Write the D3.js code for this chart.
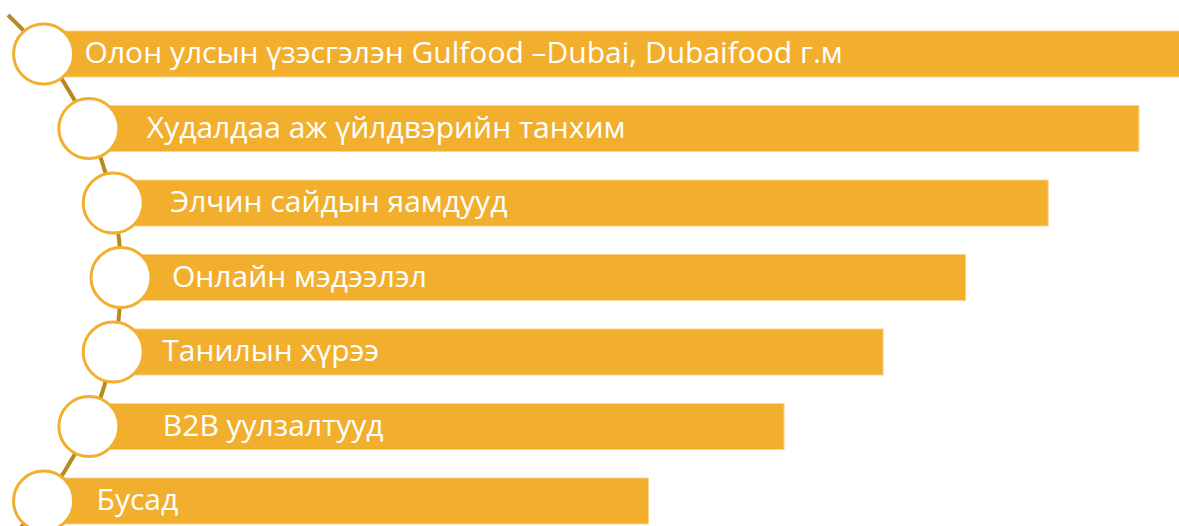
<!DOCTYPE html>
<html>
<head>
<meta charset="utf-8">
<script src="https://cdn.jsdelivr.net/npm/d3@7"></script>
<style>
    body { margin: 0; background: #fff; }
    svg { display: block; }
    .label { font-family: "Open Sans", sans-serif; font-size: 30px; fill: #fff; }
</style>
</head>
<body>
<div id="chart"></div>
<script>
var labels = [
    "Олон улсын үзэсгэлэн Gulfood –Dubai, Dubaifood г.м",
    "Худалдаа аж үйлдвэрийн танхим",
    "Элчин сайдын яамдууд",
    "Онлайн мэдээлэл",
    "Танилын хүрээ",
    "B2B уулзалтууд",
    "Бусад"
];
var values = [101, 96.6, 88.9, 81.9, 74.9, 66.5, 55.0];

// text indent from circle centre (layout only)
var labelPad = [41, 58, 57, 51, 49, 74, 53];

var width = 1179,
    height = 526,
    bar_h = 46,
    r = 30,
    gold = "#f2af2e",
    line_color = "#b8891e";

var svg = d3.select("#chart").append("svg")
    .attr("width", width)
    .attr("height", height);

var data = labels.map(function(d, i) {
    return {label: d, value: values[i], pad: labelPad[i]};
});

var xScale = d3.scaleLinear()
    .domain([0, 100])
    .range([0, width]);

var yScale = d3.scalePoint()
    .domain(labels)
    .range([54, 501]);

// big arc the circles sit on
var arc_r = 361.4,
    arc_cy = 277.5,
    arc_cx = 121 - arc_r;

function arcX(y) {
    var dy = y - arc_cy;
    return arc_cx + Math.sqrt(arc_r * arc_r - dy * dy);
}

var a0 = Math.asin((15 - arc_cy) / arc_r),
    a1 = Math.asin((545 - arc_cy) / arc_r);

var p = d3.path();
p.arc(arc_cx, arc_cy, arc_r, a0, a1, false);

svg.append("path")
    .attr("d", p.toString())
    .attr("fill", "none")
    .attr("stroke", line_color)
    .attr("stroke-width", 4);

data.forEach(function(d) {
    d.cy = yScale(d.label);
    d.cx = arcX(d.cy);
});

var rows = svg.selectAll("g.row")
    .data(data)
    .enter().append("g")
    .attr("class", "row");

rows.append("rect")
    .attr("x", function(d) { return d.cx; })
    .attr("y", function(d) { return d.cy - bar_h / 2; })
    .attr("width", function(d) { return xScale(d.value) - d.cx; })
    .attr("height", bar_h)
    .attr("fill", gold)
    .attr("stroke", "#f8d38a")
    .attr("stroke-width", 1);

rows.append("circle")
    .attr("cx", function(d) { return d.cx; })
    .attr("cy", function(d) { return d.cy; })
    .attr("r", r)
    .attr("fill", "#fff")
    .attr("stroke", gold)
    .attr("stroke-width", 3);

rows.append("text")
    .attr("class", "label")
    .attr("x", function(d) { return d.cx + d.pad; })
    .attr("y", function(d) { return d.cy + 9; })
    .text(function(d) { return d.label; });
</script>
</body>
</html>
